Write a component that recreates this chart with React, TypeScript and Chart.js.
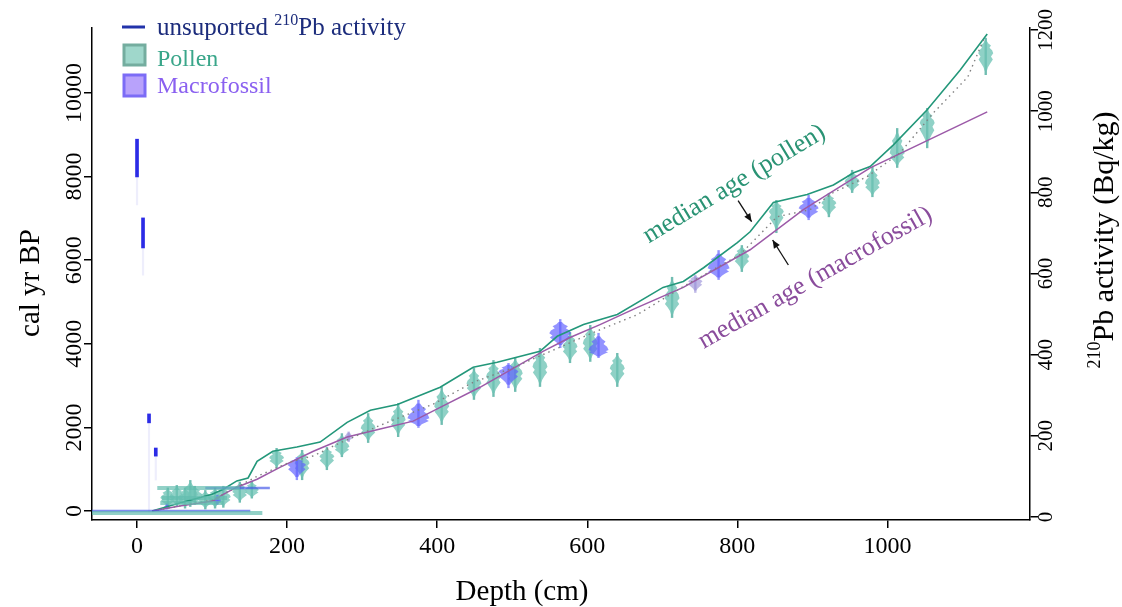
import React, { useEffect, useRef } from 'react';
import { Chart, registerables } from 'chart.js';
Chart.register(...registerables);

const FONT = '"Liberation Serif", "Times New Roman", serif';

// ---------- data ----------
const xTicks = [0, 200, 400, 600, 800, 1000];
const yTicks = [0, 2000, 4000, 6000, 8000, 10000];
const y2Ticks = [0, 200, 400, 600, 800, 1000, 1200];

const pollenMedianDepth = [20, 57, 100, 115, 133, 148, 160, 181, 213, 244, 280, 311, 347, 404, 448, 480, 537, 560, 595, 640, 701, 728, 755, 800, 817, 848, 893, 928, 955, 977, 1008, 1053, 1097, 1133];
const pollenMedianAge = [0, 190, 400, 520, 720, 790, 1190, 1430, 1530, 1650, 2120, 2410, 2550, 2960, 3440, 3560, 3820, 4180, 4460, 4700, 5350, 5490, 5820, 6420, 6680, 7380, 7570, 7800, 8090, 8240, 8760, 9600, 10550, 11410];

const macroMedianDepth = [20, 57, 101, 115, 133, 160, 191, 235, 280, 324, 368, 404, 457, 541, 577, 617, 667, 728, 817, 888, 977, 1133];
const macroMedianAge = [0, 120, 240, 400, 570, 760, 1050, 1430, 1770, 1960, 2150, 2480, 2960, 3820, 4150, 4460, 4870, 5350, 6250, 7210, 8210, 9550];

const combinedDepth = [20, 100, 160, 204, 235, 267, 324, 395, 448, 500, 551, 608, 667, 728, 804, 853, 897, 928, 973, 1017, 1061, 1107, 1128];
const combinedAge = [0, 260, 830, 1170, 1320, 1600, 2050, 2560, 3080, 3420, 3820, 4270, 4700, 5370, 6140, 7040, 7210, 7620, 8000, 8570, 9520, 10380, 11270];

const pollenDepth = [41, 53, 64, 71, 77, 91, 104, 115, 137, 153, 186, 220, 253, 273, 308, 348, 406, 449, 475, 504, 537, 577, 604, 640, 713, 806, 852, 922, 953, 980, 1013, 1053, 1131];
const pollenAge = [311, 335, 311, 383, 383, 263, 311, 335, 455, 502, 1268, 1140, 1300, 1540, 1980, 2180, 2500, 3050, 3210, 3290, 3450, 3930, 4010, 3410, 5090, 6080, 7160, 7360, 7880, 7840, 8560, 9280, 10950];
const pollenLo = [80, 100, 60, 100, 150, 40, 60, 80, 200, 300, 1029, 740, 980, 1290, 1630, 1770, 2060, 2660, 2730, 2850, 2970, 3540, 3570, 2970, 4620, 5720, 6650, 7030, 7610, 7510, 8210, 8680, 10430];
const pollenHi = [560, 620, 560, 740, 600, 500, 560, 600, 700, 720, 1507, 1460, 1530, 1860, 2340, 2580, 2970, 3420, 3610, 3680, 3900, 4280, 4450, 3780, 5600, 6360, 7440, 7610, 8160, 8230, 9160, 9640, 11320];

const macroDepth = [40, 107, 213, 282, 375, 495, 564, 615, 744, 775, 895];
const macroAge = [100, 260, 1100, 1780, 2220, 3330, 4250, 3850, 5490, 5810, 7240];
const macroLo = [40, 150, 740, 1650, 1990, 2940, 3900, 3660, 5220, 5530, 6960];
const macroHi = [180, 380, 1290, 1900, 2660, 3540, 4590, 4260, 5650, 6240, 7560];

const pbDepth = [0, 8, 16, 25];
const pbLow = [838, 663, 232, 150];
const pbHigh = [931, 737, 254, 170];
const pbTailLow = [769, 596, 12, 91];

const bandAge = [550, 550, 311, 191, -48, 0];
const bandFrom = [27, 91, 33, 31, -60, -60];
const bandTo = [137, 177, 120, 115, 167, 151];
const bandKind = ['pollen', 'macro', 'pollen', 'pollen', 'pollen', 'macro'];

// ---------- styles ----------
const POLLEN_FILL = 'rgba(112,196,182,0.78)';
const POLLEN_STEM = 'rgba(96,182,168,0.9)';
const MACRO_FILL = 'rgba(96,96,255,0.68)';
const MACRO_FAINT = 'rgba(150,140,215,0.62)';
const FAINT_MACRO = new Set([3, 8]);

const PROFILE: [number, number][] = [
  [-1, 0.15], [-0.8, 0.35], [-0.62, 0.7], [-0.45, 0.5], [-0.25, 0.85], [0, 1],
  [0.18, 0.7], [0.36, 0.95], [0.58, 0.6], [0.8, 0.3], [1, 0.15],
];

function drawViolin(ctx: CanvasRenderingContext2D, px: number, yHi: number, yC: number, yLo: number, half: number, fill: string, stem: string) {
  ctx.strokeStyle = stem;
  ctx.lineWidth = 2.4;
  ctx.beginPath();
  ctx.moveTo(px, yHi);
  ctx.lineTo(px, yLo);
  ctx.stroke();
  const top = yC - 0.8 * (yC - yHi);
  const bot = yC + 0.8 * (yLo - yC);
  const h = Math.min(half, Math.max(3, (yLo - yHi) * 0.4));
  const pts = PROFILE.map(([s, w]) => [s < 0 ? yC + s * (yC - top) : yC + s * (bot - yC), w * h]);
  ctx.beginPath();
  pts.forEach(([y, w], i) => (i ? ctx.lineTo(px + w, y) : ctx.moveTo(px + w, y)));
  for (let i = pts.length - 1; i >= 0; i--) ctx.lineTo(px - pts[i][1], pts[i][0]);
  ctx.closePath();
  ctx.fillStyle = fill;
  ctx.fill();
}

const violinPlugin = {
  id: 'violins',
  beforeDatasetsDraw(chart: any) {
    const { ctx, chartArea, scales } = chart;
    const x = scales.x, y = scales.y;
    ctx.save();
    ctx.beginPath();
    ctx.rect(chartArea.left, chartArea.top, chartArea.right - chartArea.left, chartArea.bottom - chartArea.top);
    ctx.clip();
    pollenDepth.forEach((d, i) => {
      drawViolin(ctx, x.getPixelForValue(d), y.getPixelForValue(pollenHi[i]), y.getPixelForValue(pollenAge[i]), y.getPixelForValue(pollenLo[i]), 7.5, POLLEN_FILL, POLLEN_STEM);
    });
    macroDepth.forEach((d, i) => {
      const c = FAINT_MACRO.has(i) ? MACRO_FAINT : MACRO_FILL;
      drawViolin(ctx, x.getPixelForValue(d), y.getPixelForValue(macroHi[i]), y.getPixelForValue(macroAge[i]), y.getPixelForValue(macroLo[i]), FAINT_MACRO.has(i) ? 13 : 11, c, c);
    });
    ctx.restore();
  },
};

function arrow(ctx: CanvasRenderingContext2D, x1: number, y1: number, x2: number, y2: number) {
  ctx.strokeStyle = '#111';
  ctx.fillStyle = '#111';
  ctx.lineWidth = 1.3;
  ctx.beginPath();
  ctx.moveTo(x1, y1);
  ctx.lineTo(x2, y2);
  ctx.stroke();
  const a = Math.atan2(y2 - y1, x2 - x1);
  const L = 8, W = 3.5;
  ctx.beginPath();
  ctx.moveTo(x2, y2);
  ctx.lineTo(x2 - L * Math.cos(a) + W * Math.sin(a), y2 - L * Math.sin(a) - W * Math.cos(a));
  ctx.lineTo(x2 - L * Math.cos(a) - W * Math.sin(a), y2 - L * Math.sin(a) + W * Math.cos(a));
  ctx.closePath();
  ctx.fill();
}

const textPlugin = {
  id: 'texts',
  afterDraw(chart: any) {
    const { ctx, scales } = chart;
    const x = scales.x, y = scales.y, y2 = scales.y2;
    ctx.save();
    // left tick labels (rotated)
    ctx.fillStyle = '#000';
    ctx.textAlign = 'center';
    ctx.textBaseline = 'alphabetic';
    ctx.font = `24px ${FONT}`;
    yTicks.forEach((v) => {
      ctx.save();
      ctx.translate(81, y.getPixelForValue(v));
      ctx.rotate(-Math.PI / 2);
      ctx.fillText(String(v), 0, 0);
      ctx.restore();
    });
    ctx.font = `21px ${FONT}`;
    y2Ticks.forEach((v) => {
      ctx.save();
      ctx.translate(1052, y2.getPixelForValue(v));
      ctx.rotate(-Math.PI / 2);
      ctx.fillText(String(v), 0, 0);
      ctx.restore();
    });
    // left title
    ctx.save();
    ctx.font = `29px ${FONT}`;
    ctx.translate(39, 283);
    ctx.rotate(-Math.PI / 2);
    ctx.fillText('cal yr BP', 0, 0);
    ctx.restore();
    // right title with superscript
    ctx.save();
    ctx.translate(1113, 240);
    ctx.rotate(-Math.PI / 2);
    ctx.textAlign = 'left';
    ctx.font = `18px ${FONT}`;
    const ws = ctx.measureText('210').width;
    ctx.font = `30px ${FONT}`;
    const wm = ctx.measureText('Pb activity (Bq/kg)').width;
    const start = -(ws + wm) / 2;
    ctx.font = `18px ${FONT}`;
    ctx.fillText('210', start, -13);
    ctx.font = `30px ${FONT}`;
    ctx.fillText('Pb activity (Bq/kg)', start + ws, 0);
    ctx.restore();
    // x title
    ctx.font = `29px ${FONT}`;
    ctx.textAlign = 'center';
    ctx.textBaseline = 'middle';
    ctx.fillText('Depth (cm)', 522, 592);

    // annotations
    ctx.font = `26px ${FONT}`;
    ctx.fillStyle = '#2a9374';
    ctx.save();
    ctx.translate(x.getPixelForValue(796), y.getPixelForValue(7820));
    ctx.rotate(-31 * Math.PI / 180);
    ctx.fillText('median age (pollen)', 0, 0);
    ctx.restore();
    ctx.fillStyle = '#8a4c9c';
    ctx.save();
    ctx.translate(x.getPixelForValue(904), y.getPixelForValue(5575));
    ctx.rotate(-29.5 * Math.PI / 180);
    ctx.fillText('median age (macrofossil)', 0, 0);
    ctx.restore();
    arrow(ctx, x.getPixelForValue(801), y.getPixelForValue(7423), x.getPixelForValue(819), y.getPixelForValue(6921));
    arrow(ctx, x.getPixelForValue(868), y.getPixelForValue(5885), x.getPixelForValue(847), y.getPixelForValue(6483));

    // legend
    ctx.textAlign = 'left';
    ctx.textBaseline = 'alphabetic';
    ctx.strokeStyle = '#2233aa';
    ctx.lineWidth = 3;
    ctx.beginPath();
    ctx.moveTo(122, 27);
    ctx.lineTo(145, 27);
    ctx.stroke();
    ctx.fillStyle = '#1c2c7c';
    ctx.font = `25px ${FONT}`;
    ctx.fillText('unsuported ', 157, 35);
    let cx = 157 + ctx.measureText('unsuported ').width;
    ctx.font = `16px ${FONT}`;
    ctx.fillText('210', cx, 25);
    cx += ctx.measureText('210').width;
    ctx.font = `25px ${FONT}`;
    ctx.fillText('Pb activity', cx, 35);

    ctx.lineWidth = 3;
    ctx.fillStyle = '#9fd7cb';
    ctx.strokeStyle = '#74ad9f';
    ctx.fillRect(124, 45, 21, 20);
    ctx.strokeRect(124, 45, 21, 20);
    ctx.fillStyle = '#b8a2fb';
    ctx.strokeStyle = '#7c6cf6';
    ctx.fillRect(124, 75, 21, 21);
    ctx.strokeRect(124, 75, 21, 21);
    ctx.font = `24px ${FONT}`;
    ctx.fillStyle = '#3aa68a';
    ctx.fillText('Pollen', 157, 66);
    ctx.fillStyle = '#8a60f0';
    ctx.fillText('Macrofossil', 157, 93);
    ctx.restore();
  },
};

function lineDs(xs: number[], ys: number[], color: string, width: number, dash: number[] = []) {
  return {
    type: 'line',
    data: xs.map((v, i) => ({ x: v, y: ys[i] })),
    borderColor: color,
    borderWidth: width,
    borderDash: dash,
    pointRadius: 0,
    fill: false,
    tension: 0,
    yAxisID: 'y',
  };
}

export default function App() {
  const ref = useRef<HTMLCanvasElement>(null);
  useEffect(() => {
    if (!ref.current) return;
    const bands = bandAge.map((a, i) =>
      lineDs([bandFrom[i], bandTo[i]], [a, a], bandKind[i] === 'pollen' ? 'rgba(100,190,175,0.7)' : 'rgba(60,80,230,0.65)', bandKind[i] === 'pollen' ? 4 : 2.5)
    );
    const chart = new Chart(ref.current, {
      type: 'scatter',
      data: {
        datasets: [
          ...bands,
          lineDs(combinedDepth, combinedAge, '#808080', 1.4, [1.5, 4]),
          lineDs(macroMedianDepth, macroMedianAge, '#9c5aa8', 1.5),
          lineDs(pollenMedianDepth, pollenMedianAge, '#23977a', 1.6),
          {
            type: 'bar',
            data: pbDepth.map((d, i) => ({ x: d, y: [pbTailLow[i], pbLow[i]] })),
            backgroundColor: 'rgba(90,90,230,0.1)',
            barThickness: 1.5,
            grouped: false,
            yAxisID: 'y2',
          },
          {
            type: 'bar',
            data: pbDepth.map((d, i) => ({ x: d, y: [pbLow[i], pbHigh[i]] })),
            backgroundColor: '#2b2be6',
            barThickness: 3,
            grouped: false,
            yAxisID: 'y2',
          },
        ] as any,
      },
      options: {
        responsive: false,
        animation: false,
        events: [],
        layout: { padding: { top: 28, left: 0, right: 0, bottom: 0 } },
        plugins: { legend: { display: false }, tooltip: { enabled: false } },
        scales: {
          x: {
            type: 'linear',
            min: -60,
            max: 1190,
            offset: false,
            afterBuildTicks: (s: any) => { s.ticks = xTicks.map((v) => ({ value: v })); },
            afterFit: (s: any) => { s.height = 87; },
            border: { display: true, color: '#000', width: 1.5 },
            grid: { offset: false, drawOnChartArea: false, drawTicks: true, tickLength: 8, color: '#000', lineWidth: 1.5 },
            ticks: { color: '#000', padding: 4, font: { family: FONT, size: 24 }, maxRotation: 0, autoSkip: false, callback: (v: any) => String(v) },
          },
          y: {
            type: 'linear',
            position: 'left',
            min: -215,
            max: 11555,
            afterBuildTicks: (s: any) => { s.ticks = yTicks.map((v) => ({ value: v })); },
            afterFit: (s: any) => { s.width = 92; },
            border: { display: true, color: '#000', width: 1.5 },
            grid: { offset: false, drawOnChartArea: false, drawTicks: true, tickLength: 8, color: '#000', lineWidth: 1.5 },
            ticks: { color: 'rgba(0,0,0,0)', font: { family: FONT, size: 12 } },
          },
          y2: {
            type: 'linear',
            position: 'right',
            min: -7.4,
            max: 1205,
            afterBuildTicks: (s: any) => { s.ticks = y2Ticks.map((v) => ({ value: v })); },
            afterFit: (s: any) => { s.width = 92; },
            border: { display: true, color: '#000', width: 1.5 },
            grid: { offset: false, drawOnChartArea: false, drawTicks: true, tickLength: 8, color: '#000', lineWidth: 1.5 },
            ticks: { color: 'rgba(0,0,0,0)', font: { family: FONT, size: 12 } },
          },
        },
      } as any,
      plugins: [violinPlugin, textPlugin],
    });
    return () => chart.destroy();
  }, []);
  return (
    <div style={{ position: 'fixed', left: 0, top: 0, width: 1122, height: 607, background: '#fff' }}>
      <canvas ref={ref} width={1122} height={607} style={{ display: 'block' }} />
    </div>
  );
}
